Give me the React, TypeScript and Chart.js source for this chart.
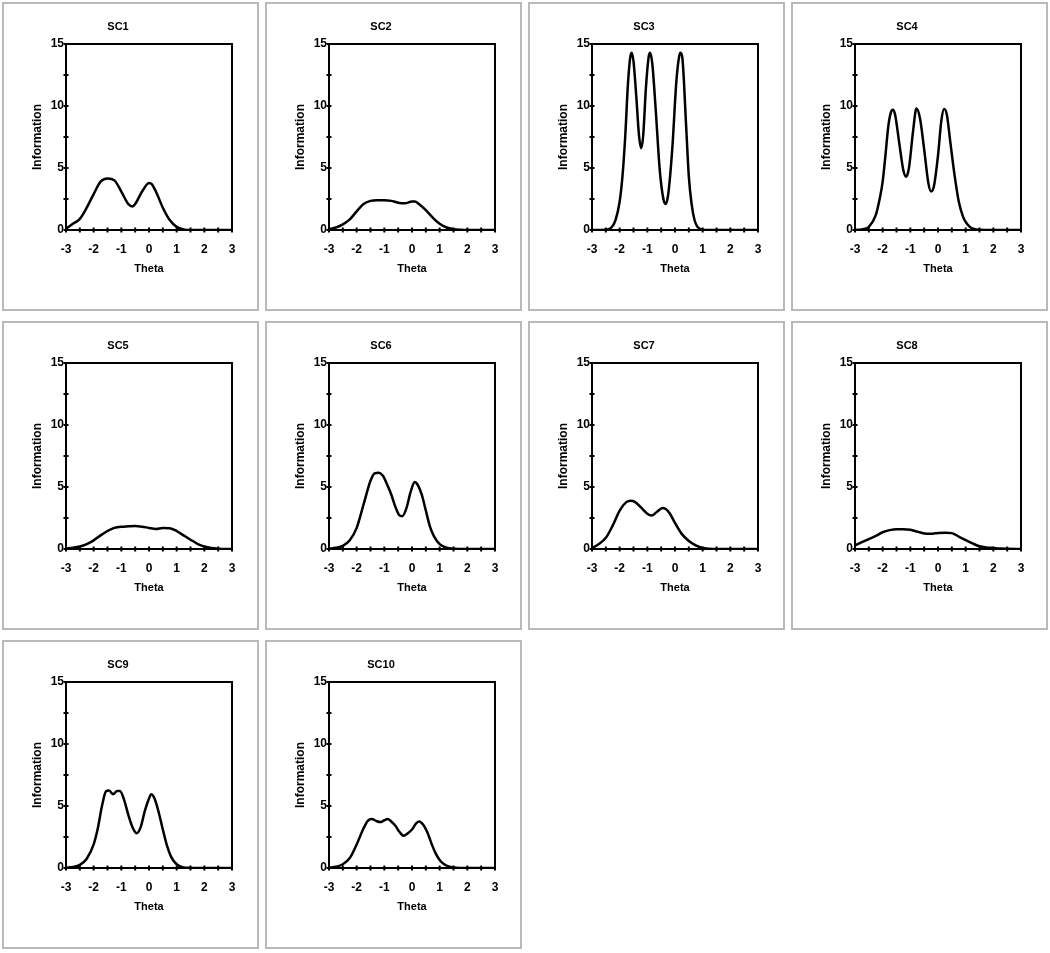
import React, { useEffect, useRef } from "react";
import { Chart, registerables } from "chart.js";

Chart.register(...registerables);

// ---- Data (theta, information) ----
const panelTitles = ["SC1", "SC2", "SC3", "SC4", "SC5", "SC6", "SC7", "SC8", "SC9", "SC10"];

const sc1Theta = [-3, -2.75, -2.5, -2.25, -2, -1.75, -1.5, -1.25, -1, -0.75, -0.6, -0.5, -0.25, 0, 0.1, 0.25, 0.5, 0.75, 1, 1.25, 1.5, 2, 2.5, 3];
const sc1Info = [0.1, 0.5, 0.9, 1.8, 2.9, 3.9, 4.15, 4.0, 3.1, 2.1, 1.9, 2.1, 3.1, 3.8, 3.7, 3.1, 1.8, 0.8, 0.25, 0.05, 0, 0, 0, 0];

const sc2Theta = [-3, -2.75, -2.5, -2.25, -2, -1.75, -1.5, -1.25, -1, -0.75, -0.5, -0.25, 0, 0.1, 0.25, 0.5, 0.75, 1, 1.25, 1.5, 1.75, 2, 2.5, 3];
const sc2Info = [0.05, 0.2, 0.45, 0.85, 1.5, 2.1, 2.35, 2.4, 2.4, 2.35, 2.2, 2.15, 2.3, 2.3, 2.1, 1.6, 1.0, 0.5, 0.2, 0.07, 0.02, 0, 0, 0];

const sc3Theta = [-3, -2.5, -2.3, -2.15, -2.0, -1.9, -1.8, -1.7, -1.62, -1.57, -1.5, -1.4, -1.3, -1.22, -1.15, -1.05, -0.95, -0.9, -0.82, -0.7, -0.55, -0.42, -0.34, -0.25, -0.1, 0.05, 0.15, 0.2, 0.27, 0.4, 0.5, 0.6, 0.7, 0.8, 0.9, 1.0, 1.2, 2, 3];
const sc3Info = [0, 0.02, 0.2, 0.8, 2.3, 4.3, 7.5, 11.8, 13.9, 14.3, 13.6, 10.8, 7.6, 6.6, 7.6, 11.5, 14.0, 14.3, 13.4, 9.8, 4.8, 2.5, 2.1, 2.8, 6.5, 12.0, 14.0, 14.3, 13.8, 8.5, 4.3, 2.1, 0.85, 0.3, 0.1, 0.03, 0, 0, 0];

const sc4Theta = [-3, -2.75, -2.5, -2.25, -2.1, -2, -1.9, -1.8, -1.7, -1.63, -1.55, -1.4, -1.25, -1.15, -1.05, -0.9, -0.78, -0.65, -0.5, -0.35, -0.25, -0.15, 0, 0.12, 0.22, 0.32, 0.45, 0.6, 0.75, 0.9, 1, 1.15, 1.3, 1.5, 2, 3];
const sc4Info = [0, 0.05, 0.25, 1.2, 2.6, 3.9, 6.0, 8.3, 9.5, 9.7, 9.3, 7.0, 4.8, 4.3, 5.0, 8.0, 9.8, 9.0, 6.5, 3.8, 3.1, 3.5, 6.0, 8.8, 9.75, 9.3, 7.0, 4.4, 2.3, 1.1, 0.65, 0.25, 0.08, 0.02, 0, 0];

const sc5Theta = [-3, -2.75, -2.5, -2.25, -2, -1.75, -1.5, -1.25, -1, -0.75, -0.5, -0.25, 0, 0.25, 0.5, 0.75, 1, 1.25, 1.5, 1.75, 2, 2.25, 2.5, 3];
const sc5Info = [0.05, 0.1, 0.2, 0.4, 0.7, 1.1, 1.45, 1.7, 1.8, 1.83, 1.85, 1.8, 1.7, 1.62, 1.7, 1.68, 1.45, 1.1, 0.75, 0.42, 0.2, 0.08, 0.03, 0];

const sc6Theta = [-3, -2.75, -2.5, -2.25, -2, -1.75, -1.5, -1.35, -1.2, -1.05, -0.9, -0.75, -0.6, -0.45, -0.35, -0.2, -0.05, 0.1, 0.2, 0.35, 0.5, 0.65, 0.8, 1.0, 1.25, 1.5, 2, 3];
const sc6Info = [0.03, 0.1, 0.25, 0.7, 1.7, 3.6, 5.5, 6.1, 6.15, 5.9, 5.2, 4.4, 3.4, 2.7, 2.65, 3.3, 4.6, 5.4, 5.2, 4.4, 3.1, 1.8, 1.0, 0.4, 0.1, 0.02, 0, 0];

const sc7Theta = [-3, -2.75, -2.5, -2.25, -2, -1.75, -1.6, -1.45, -1.25, -1, -0.85, -0.65, -0.45, -0.35, -0.2, 0, 0.25, 0.5, 0.75, 1, 1.25, 1.5, 3];
const sc7Info = [0.08, 0.4, 0.9, 1.9, 3.1, 3.8, 3.9, 3.8, 3.4, 2.85, 2.7, 3.0, 3.3, 3.25, 2.9, 2.1, 1.2, 0.65, 0.3, 0.08, 0.02, 0, 0];

const sc8Theta = [-3, -2.75, -2.5, -2.25, -2, -1.75, -1.5, -1.25, -1, -0.75, -0.5, -0.25, 0, 0.25, 0.5, 0.75, 1, 1.25, 1.5, 1.75, 2, 2.25, 2.5, 3];
const sc8Info = [0.3, 0.55, 0.8, 1.05, 1.35, 1.52, 1.6, 1.6, 1.55, 1.4, 1.25, 1.22, 1.3, 1.32, 1.28, 1.0, 0.72, 0.45, 0.22, 0.12, 0.08, 0.04, 0.02, 0];

const sc9Theta = [-3, -2.75, -2.5, -2.25, -2, -1.85, -1.7, -1.55, -1.45, -1.3, -1.15, -1.05, -0.9, -0.75, -0.6, -0.45, -0.3, -0.15, 0, 0.08, 0.2, 0.35, 0.5, 0.65, 0.8, 1, 1.25, 1.5, 2, 3];
const sc9Info = [0.02, 0.08, 0.25, 0.75, 1.9, 3.2, 5.0, 6.2, 6.25, 5.95, 6.2, 6.2, 5.5, 4.3, 3.3, 2.8, 3.3, 4.6, 5.6, 5.95, 5.6, 4.5, 3.1, 1.8, 0.9, 0.3, 0.05, 0.01, 0, 0];

const sc10Theta = [-3, -2.75, -2.5, -2.25, -2, -1.75, -1.6, -1.45, -1.3, -1.15, -1.0, -0.88, -0.75, -0.6, -0.45, -0.3, -0.15, 0, 0.15, 0.27, 0.4, 0.55, 0.7, 0.85, 1, 1.15, 1.3, 1.5, 2, 3];
const sc10Info = [0.03, 0.1, 0.3, 0.8, 1.9, 3.2, 3.8, 3.95, 3.8, 3.7, 3.85, 3.95, 3.75, 3.4, 2.9, 2.6, 2.8, 3.1, 3.6, 3.75, 3.5, 2.9, 2.0, 1.2, 0.65, 0.33, 0.15, 0.05, 0, 0];

const thetaSeries = [sc1Theta, sc2Theta, sc3Theta, sc4Theta, sc5Theta, sc6Theta, sc7Theta, sc8Theta, sc9Theta, sc10Theta];
const infoSeries = [sc1Info, sc2Info, sc3Info, sc4Info, sc5Info, sc6Info, sc7Info, sc8Info, sc9Info, sc10Info];

const xTickLabels = ["-3", "-2", "-1", "0", "1", "2", "3"];
const yTickLabels = ["0", "5", "10", "15"];
const xAxisTitle = "Theta";
const yAxisTitle = "Information";

// ---- Layout ----
const colLefts = [2, 265, 528, 791];
const rowTops = [2, 321, 640];
const PANEL_W = 257;
const PANEL_H = 309;
const BORDER = 2;
const CANVAS_W = PANEL_W - 2 * BORDER;
const CANVAS_H = PANEL_H - 2 * BORDER;
const PLOT_LEFT = 62;
const PLOT_RIGHT = 228;
const PLOT_TOP = 40;
const PLOT_BOTTOM = 226;

const FONT = "'Liberation Sans', Arial, Helvetica, sans-serif";

const framePlugin = {
  id: "frameAndCrossTicks",
  afterDraw(chart: any) {
    const { ctx, chartArea } = chart;
    const { left, right, top, bottom } = chartArea;
    const xs = chart.scales.x;
    const ys = chart.scales.y;
    ctx.save();
    ctx.strokeStyle = "#000";
    ctx.lineWidth = 2;
    ctx.beginPath();
    ctx.moveTo(left - 1, top);
    ctx.lineTo(right, top);
    ctx.lineTo(right, bottom + 1);
    ctx.stroke();
    ctx.beginPath();
    xs.ticks.forEach((t: any) => {
      const px = xs.getPixelForValue(t.value);
      ctx.moveTo(px, bottom - 2.5);
      ctx.lineTo(px, bottom + 2.5);
    });
    ys.ticks.forEach((t: any) => {
      const py = ys.getPixelForValue(t.value);
      ctx.moveTo(left - 2.5, py);
      ctx.lineTo(left + 2.5, py);
    });
    ctx.stroke();
    ctx.restore();
  },
};

function Panel({ index }: { index: number }) {
  const ref = useRef<HTMLCanvasElement | null>(null);
  useEffect(() => {
    if (!ref.current) return;
    const theta = thetaSeries[index];
    const info = infoSeries[index];
    const chart = new Chart(ref.current, {
      type: "line",
      data: {
        datasets: [
          {
            data: theta.map((t, i) => ({ x: t, y: info[i] })),
            borderColor: "#000",
            borderWidth: 2.5,
            pointRadius: 0,
            fill: false,
            cubicInterpolationMode: "monotone",
          },
        ],
      },
      options: {
        responsive: false,
        animation: false,
        events: [],
        layout: { padding: { left: 0, top: 0, right: CANVAS_W - PLOT_RIGHT, bottom: 0 } },
        plugins: {
          legend: { display: false },
          tooltip: { enabled: false },
          title: {
            display: true,
            text: panelTitles[index],
            color: "#000",
            font: { family: FONT, size: 11, weight: "bold" },
            padding: { top: 16.4, bottom: PLOT_TOP - 16.4 - 13.2 },
          },
        },
        scales: {
          x: {
            type: "linear",
            min: -3,
            max: 3,
            grid: { display: false, drawTicks: false },
            border: { display: true, color: "#000", width: 2 },
            ticks: {
              stepSize: 0.5,
              autoSkip: false,
              maxRotation: 0,
              padding: 12,
              color: "#000",
              font: { family: FONT, size: 12, weight: "bold" },
              callback: (v: any) => {
                const n = Number(v);
                return Number.isInteger(n) ? xTickLabels[n + 3] : "";
              },
            },
            title: {
              display: true,
              text: xAxisTitle,
              color: "#000",
              font: { family: FONT, size: 11, weight: "bold" },
              padding: { top: 0, bottom: 33 },
            },
            afterFit: (s: any) => {
              s.height = CANVAS_H - PLOT_BOTTOM;
            },
          },
          y: {
            type: "linear",
            min: 0,
            max: 15,
            grid: { display: false, drawTicks: false },
            border: { display: true, color: "#000", width: 2 },
            ticks: {
              stepSize: 2.5,
              autoSkip: false,
              padding: 2,
              color: "#000",
              font: { family: FONT, size: 12, weight: "bold" },
              callback: (v: any) => {
                const n = Number(v);
                return n % 5 === 0 ? yTickLabels[n / 5] : "";
              },
            },
            title: {
              display: true,
              text: yAxisTitle,
              color: "#000",
              font: { family: FONT, size: 12, weight: "bold" },
              padding: { top: 26, bottom: 0 },
            },
            afterFit: (s: any) => {
              s.width = PLOT_LEFT;
            },
          },
        },
      },
      plugins: [framePlugin],
    });
    return () => chart.destroy();
  }, [index]);

  const col = index % 4;
  const row = Math.floor(index / 4);
  return (
    <div
      style={{
        position: "absolute",
        left: colLefts[col],
        top: rowTops[row],
        width: PANEL_W,
        height: PANEL_H,
        boxSizing: "border-box",
        border: `${BORDER}px solid #b9b9b9`,
        background: "#fff",
      }}
    >
      <canvas ref={ref} width={CANVAS_W} height={CANVAS_H} style={{ display: "block" }} />
    </div>
  );
}

export default function App() {
  return (
    <div style={{ position: "absolute", left: 0, top: 0, width: 1050, height: 953, background: "#fff" }}>
      {panelTitles.map((_, i) => (
        <Panel key={i} index={i} />
      ))}
    </div>
  );
}
